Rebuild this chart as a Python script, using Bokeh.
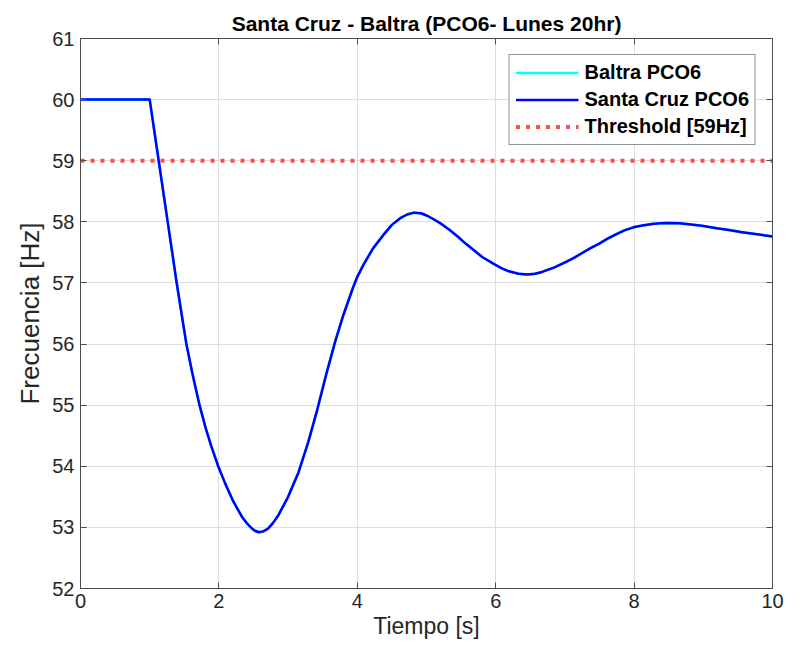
from bokeh.plotting import figure
from bokeh.models import Range1d, LinearAxis, FixedTicker, Legend, LegendItem
from bokeh.embed import file_html
from bokeh.resources import INLINE

# ---- data ----
time_s = [0.0, 1.0, 1.13, 1.26, 1.39, 1.53, 1.62, 1.72, 1.81, 1.89, 1.99, 2.09, 2.21, 2.33,
          2.41, 2.47, 2.52, 2.58, 2.64, 2.71, 2.78, 2.86, 3.00, 3.15, 3.29, 3.42, 3.55, 3.68,
          3.80, 3.94, 4.00, 4.09, 4.23, 4.38, 4.50, 4.62, 4.72, 4.82, 4.92, 5.01,
          5.09, 5.21, 5.33, 5.45, 5.57, 5.69, 5.81, 5.99, 6.09, 6.19, 6.33, 6.46,
          6.57, 6.67, 6.84, 7.01, 7.13, 7.25, 7.37, 7.49, 7.61, 7.73, 7.86, 7.99,
          8.12, 8.26, 8.38, 8.50, 8.65, 8.79, 8.98, 9.17, 9.37, 9.56, 9.78, 10.0]
santa_cruz = [60.0, 60.0, 59.0, 58.0, 57.0, 56.0, 55.5, 55.0, 54.62, 54.33, 54.0, 53.72, 53.42, 53.18,
              53.06, 52.99, 52.945, 52.92, 52.935, 52.98, 53.07, 53.2, 53.5, 53.9, 54.39, 54.92, 55.5, 56.04,
              56.48, 56.93, 57.1, 57.3, 57.57, 57.79, 57.95, 58.06, 58.12, 58.15, 58.14, 58.1,
              58.05, 57.97, 57.87, 57.76, 57.64, 57.53, 57.42, 57.3, 57.24, 57.19, 57.15, 57.14,
              57.15, 57.18, 57.25, 57.34, 57.41, 57.49, 57.57, 57.64, 57.72, 57.79, 57.86, 57.91,
              57.94, 57.965, 57.978, 57.98, 57.975, 57.96, 57.935, 57.9, 57.865, 57.83, 57.795, 57.76]
baltra = list(santa_cruz)
threshold = 59.0
x_ticks = [0, 2, 4, 6, 8, 10]
y_ticks = [52, 53, 54, 55, 56, 57, 58, 59, 60, 61]

FONT = "Liberation Sans"
TXT = "#262626"
EDGE = "#4d4d4d"

p = figure(width=788, height=656, output_backend="svg", toolbar_location=None,
           x_range=Range1d(0, 10), y_range=Range1d(52, 61),
           min_border_left=80, min_border_right=16, min_border_top=38, min_border_bottom=68,
           title="Santa Cruz - Baltra (PCO6- Lunes 20hr)")
p.title.align = "center"
p.title.text_font = FONT
p.title.text_font_size = "21px"
p.title.text_font_style = "bold"
p.title.text_color = "#000000"
p.title.standoff = 8

p.background_fill_color = "white"
p.border_fill_color = "white"
p.outline_line_color = EDGE
p.outline_line_width = 1

for ax in (p.xaxis[0], p.yaxis[0]):
    ax.major_label_text_font = FONT
    ax.major_label_text_font_size = "20px"
    ax.major_label_text_color = TXT
    ax.axis_label_text_font = FONT
    ax.axis_label_text_font_style = "normal"
    ax.axis_label_text_color = TXT
    ax.axis_line_color = EDGE
    ax.major_tick_line_color = EDGE
    ax.major_tick_in = 6
    ax.major_tick_out = 0
    ax.minor_tick_line_color = None

p.xaxis[0].ticker = FixedTicker(ticks=x_ticks)
p.yaxis[0].ticker = FixedTicker(ticks=y_ticks)
p.xaxis[0].axis_label = "Tiempo [s]"
p.yaxis[0].axis_label = "Frecuencia [Hz]"
p.xaxis[0].axis_label_text_font_size = "23px"
p.yaxis[0].axis_label_text_font_size = "26px"
p.xaxis[0].axis_label_standoff = 2
p.yaxis[0].axis_label_standoff = 4
p.xaxis[0].major_label_standoff = 5
p.yaxis[0].major_label_standoff = 6

# mirror axes (ticks only, like a boxed MATLAB axes)
blank_x = {t: "" for t in x_ticks}
blank_y = {t: "" for t in y_ticks}
top = LinearAxis(ticker=FixedTicker(ticks=x_ticks), major_label_overrides=blank_x,
                 major_tick_in=6, major_tick_out=0, minor_tick_line_color=None,
                 axis_line_color=EDGE, major_tick_line_color=EDGE, major_label_standoff=0,
                 major_label_text_font_size="1px")
right = LinearAxis(ticker=FixedTicker(ticks=y_ticks), major_label_overrides=blank_y,
                   major_tick_in=6, major_tick_out=0, minor_tick_line_color=None,
                   axis_line_color=EDGE, major_tick_line_color=EDGE, major_label_standoff=0,
                   major_label_text_font_size="1px")
p.add_layout(top, "above")
p.add_layout(right, "right")

p.xgrid.ticker = FixedTicker(ticks=x_ticks)
p.ygrid.ticker = FixedTicker(ticks=y_ticks)
p.grid.grid_line_color = "#dedede"
p.grid.grid_line_width = 1

r_baltra = p.line(time_s, baltra, line_color="#00ffff", line_width=2.5)
r_sc = p.line(time_s, santa_cruz, line_color="#0000ff", line_width=2.5, line_join="round")
r_th = p.line([0, 10], [threshold, threshold], line_color="#ff3030", line_alpha=0.85,
              line_width=4, line_dash="4 6")

legend = Legend(items=[LegendItem(label="Baltra PCO6", renderers=[r_baltra]),
                       LegendItem(label="Santa Cruz PCO6", renderers=[r_sc]),
                       LegendItem(label="Threshold [59Hz]", renderers=[r_th])],
                location="top_right")
legend.label_text_font = FONT
legend.label_text_font_size = "20px"
legend.label_text_font_style = "bold"
legend.label_text_color = "#000000"
legend.border_line_color = "#262626"
legend.border_line_width = 1
legend.background_fill_color = "white"
legend.background_fill_alpha = 1
legend.glyph_width = 63
legend.glyph_height = 21
legend.label_height = 21
legend.spacing = 4
legend.padding = 6
legend.margin = 16
legend.label_standoff = 6
p.add_layout(legend, "center")

open("out.html", "w").write(file_html(p, INLINE))
